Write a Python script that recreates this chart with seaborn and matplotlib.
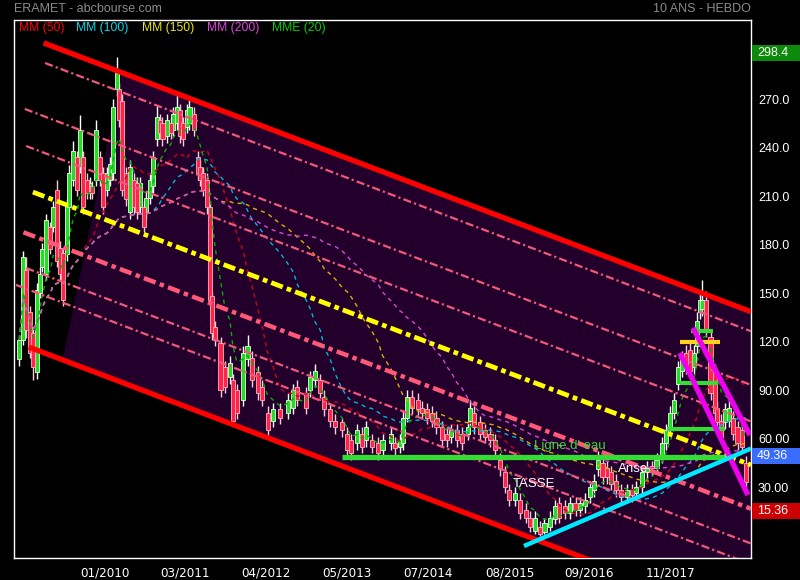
import numpy as np
import pandas as pd
import matplotlib
matplotlib.use("Agg")
import matplotlib.pyplot as plt
import matplotlib.transforms as mtransforms
from matplotlib.patches import Rectangle, Polygon
import seaborn as sns

# ---------------- data (weekly candles, week index from chart start) ----------------
week = [4, 7, 9, 12, 14, 17, 19, 21, 24, 27, 29, 32, 34, 36, 39, 41, 44, 47, 49, 51,
        54, 56, 58, 61, 64, 66, 69, 71, 73, 76, 78, 80, 83, 86, 89, 91, 93, 96, 98, 101,
        103, 106, 108, 110, 113, 116, 118, 121, 123, 125, 128, 130, 133, 136, 138, 140, 143, 145, 147, 149,
        153, 156, 160, 162, 165, 170, 173, 176, 181, 184, 188, 192, 197, 203, 207, 210, 216, 219, 223, 227,
        230, 234, 238, 243, 247, 250, 254, 258, 261, 265, 270, 273, 279, 282, 286, 288, 291, 295, 299, 302,
        306, 310, 313, 317, 321, 324, 328, 332, 336, 338, 341, 345, 349, 353, 356, 360, 364, 367, 371, 375,
        379, 382, 386, 390, 393, 397, 401, 404, 408, 412, 416, 419, 423, 427, 430, 433, 436, 439, 442, 446,
        450, 454, 458, 461, 465, 469, 473, 476, 480, 483, 486, 489, 492, 495, 498, 501, 504, 506, 508, 510,
        513, 516, 519, 521, 524, 527, 530, 533, 536, 539, 542]
open_ = [109, 121, 164, 138, 125, 101, 150, 166, 162, 191, 191, 214, 178, 175, 174, 203, 220, 234, 228, 234,
         220, 212, 216, 220, 234, 224, 214, 220, 224, 276, 276, 269, 224, 200, 220, 218, 203, 203, 200, 209,
         216, 245, 257, 255, 247, 255, 251, 255, 263, 255, 253, 255, 261, 234, 228, 224, 220, 203, 148, 129,
         119, 104, 98, 96, 90, 84, 109, 110, 101, 92, 76, 71, 78, 76, 79, 92, 88, 90, 96, 96,
         86, 78, 71, 70, 63, 59, 57, 63, 59, 59, 57, 53, 57, 57, 55, 57, 73, 86, 84, 79,
         78, 76, 73, 67, 63, 61, 65, 63, 63, 71, 76, 70, 65, 63, 59, 47, 39, 28, 22, 22,
         16, 11, 3, 5, 2, 5, 10, 20, 18, 14, 20, 16, 18, 24, 28, 41, 45, 42, 39, 34,
         28, 24, 28, 26, 30, 39, 42, 42, 49, 57, 67, 76, 94, 102, 113, 115, 104, 117, 138, 140,
         146, 123, 102, 79, 71, 70, 71, 73, 67, 65, 45]
high = [124, 176, 172, 142, 128, 156, 166, 181, 199, 194, 207, 220, 182, 178, 208, 229, 244, 238, 260, 238,
        224, 222, 219, 257, 238, 228, 228, 234, 270, 296, 280, 273, 228, 232, 224, 222, 222, 207, 213, 224,
        238, 266, 261, 259, 261, 259, 265, 274, 267, 259, 267, 272, 265, 238, 232, 228, 224, 207, 151, 133,
        123, 108, 111, 100, 94, 117, 124, 114, 105, 96, 80, 82, 82, 88, 94, 96, 92, 102, 106, 100,
        90, 82, 75, 73, 67, 63, 69, 67, 71, 63, 61, 63, 67, 61, 63, 77, 90, 90, 88, 83,
        82, 80, 77, 71, 67, 69, 69, 67, 71, 84, 80, 74, 69, 67, 63, 51, 43, 32, 30, 26,
        20, 15, 15, 9, 11, 15, 22, 24, 22, 24, 24, 24, 26, 34, 38, 52, 49, 46, 43, 38,
        32, 32, 32, 34, 43, 46, 46, 51, 61, 69, 80, 88, 108, 114, 118, 120, 118, 138, 151, 158,
        151, 128, 106, 83, 75, 82, 88, 77, 71, 69, 49]
low = [105, 118, 122, 110, 96, 97, 147, 163, 158, 174, 188, 166, 158, 142, 170, 200, 216, 210, 224, 199,
       208, 208, 208, 216, 216, 199, 210, 216, 220, 272, 253, 210, 204, 196, 199, 196, 199, 188, 196, 205,
       212, 241, 245, 241, 243, 245, 247, 251, 243, 241, 249, 251, 247, 220, 216, 210, 199, 142, 121, 117,
       86, 88, 94, 68, 72, 80, 105, 92, 84, 80, 60, 67, 69, 72, 75, 80, 75, 86, 92, 84,
       74, 67, 63, 61, 49, 47, 53, 51, 55, 51, 47, 49, 53, 50, 51, 53, 70, 75, 74, 72,
       69, 67, 63, 55, 55, 57, 55, 53, 59, 67, 63, 59, 57, 55, 49, 37, 26, 18, 18, 10,
       8, 2, 1, 0, 1, 3, 7, 8, 10, 10, 12, 12, 14, 20, 24, 37, 32, 32, 28, 24,
       20, 20, 21, 22, 26, 35, 37, 38, 45, 53, 63, 72, 90, 98, 100, 98, 100, 113, 134, 136,
       123, 84, 72, 66, 57, 66, 67, 59, 53, 51, 30]
close = [121, 172, 127, 113, 104, 152, 162, 177, 195, 177, 203, 170, 162, 146, 204, 224, 238, 214, 251, 203,
         212, 218, 212, 251, 220, 203, 224, 230, 265, 286, 257, 214, 208, 228, 203, 200, 218, 191, 209, 220,
         234, 259, 249, 245, 257, 249, 261, 265, 247, 245, 263, 265, 251, 224, 220, 214, 203, 146, 125, 121,
         90, 92, 107, 71, 76, 113, 117, 96, 88, 84, 65, 78, 73, 84, 90, 84, 79, 98, 102, 88,
         78, 71, 67, 65, 53, 51, 65, 55, 67, 55, 51, 59, 63, 54, 59, 73, 86, 79, 78, 76,
         73, 71, 67, 59, 59, 65, 59, 57, 67, 79, 67, 63, 61, 59, 53, 41, 30, 22, 26, 14,
         11, 5, 11, 1, 8, 11, 18, 11, 14, 20, 16, 20, 22, 30, 34, 47, 36, 36, 32, 28,
         24, 28, 25, 30, 39, 42, 41, 47, 57, 65, 76, 84, 104, 109, 104, 102, 113, 133, 146, 146,
         127, 88, 76, 70, 61, 78, 79, 63, 57, 55, 33]

x_tick_weeks = [67, 127, 187, 247, 307, 367, 426, 486]
x_tick_labels = ["01/2010", "03/2011", "04/2012", "05/2013", "07/2014", "08/2015", "09/2016", "11/2017"]
y_ticks = [30, 60, 90, 120, 150, 180, 210, 240, 270, 300]

ma_names = ["MM (50)", "MM (100)", "MM (150)", "MM (200)", "MME (20)"]
ma_periods = [50, 100, 150, 200, 20]

# regression channel: price at week 0 for each parallel line, its start week
chan_slope = -0.3173
chan_p0 = [311.7, 299.6, 266.4, 243.8, 216.9, 189.8, 168.3, 155.5, 120.1]
chan_start = [22, 23, 8, 9, 14, 7, 9, 1.5, 11]
chan_kind = ["edge", "dd", "dd", "dd", "yellow", "pink", "dd", "dd", "edge"]
fill_start_top, fill_start_bottom = 80, 36

# horizontal levels
level_price = [48.6, 126.5, 119.7, 94.3, 65.9]
level_w0 = [243, 501.5, 493.3, 493.3, 483.7]
level_w1 = [526.7, 517.8, 523.0, 521.5, 526.7]
level_kind = ["water", "green", "yellow", "green", "green"]

# other trend lines
mag_w = [[493.3, 543.7], [503.0, 545.2]]
mag_p = [[112.9, 25.1], [128.4, 62.2]]
cyan_w = [377.8, 546.0]
cyan_p = [-6.5, 53.8]

notes = ["Ligne d' eau", "TASSE", "Anse"]
note_w = [385, 369.6, 447.4]
note_p = [55.4, 31.9, 41.1]

box_values = [298.4, 49.36, 15.36]

# ---------------- styling ----------------
sns.set_theme(style="dark")
plt.rcParams["font.family"] = ["Liberation Sans", "DejaVu Sans"]
plt.rcParams["axes.facecolor"] = "black"
plt.rcParams["figure.facecolor"] = "black"

W, H = 800, 580
fig = plt.figure(figsize=(W / 100, H / 100), dpi=100)
ax = fig.add_axes([14 / W, 22 / H, 737 / W, 538 / H])
ax.set_facecolor("black")
XMIN, XMAX = 0, 546
ax.set_xlim(XMIN, XMAX)
ax.set_ylim(-13.9, 318.9)

def chan(p0, w):
    return p0 + chan_slope * np.asarray(w, dtype=float)

# purple channel fill
top_p0, bot_p0 = chan_p0[0], chan_p0[-1]
poly = [(fill_start_top, chan(top_p0, fill_start_top)), (XMAX, chan(top_p0, XMAX)),
        (XMAX, chan(bot_p0, XMAX)), (fill_start_bottom, chan(bot_p0, fill_start_bottom))]
ax.add_patch(Polygon(poly, closed=True, facecolor="#22002b", edgecolor="none", zorder=0.5))

# candles
w_arr = np.array(week, dtype=float)
o_arr, h_arr, l_arr, c_arr = map(np.array, (open_, high, low, close))
up = c_arr >= o_arr
ax.vlines(w_arr[up], l_arr[up], h_arr[up], colors="#ffffff", lw=1.0, zorder=2)
ax.vlines(w_arr[~up], l_arr[~up], h_arr[~up], colors="#ffc8d8", lw=1.0, zorder=2)
body = np.where(np.abs(c_arr - o_arr) < 1.2, 1.2, c_arr - o_arr)
ax.bar(w_arr[up], body[up], bottom=o_arr[up], width=3.0, color="#22dd22",
       edgecolor="#e8ffe8", linewidth=0.6, zorder=2.1)
ax.bar(w_arr[~up], body[~up], bottom=o_arr[~up], width=3.0, color="#ff2448",
       edgecolor="#ffb0c4", linewidth=0.6, zorder=2.1)

# moving averages
dates = pd.Timestamp("2008-10-27") + pd.to_timedelta(w_arr * 7, unit="D")
s = pd.Series(c_arr.astype(float), index=dates)
ma_colors = ["#d0001c", "#00b8d8", "#d8b000", "#d848d8", "#00b000"]
for name, n, col in zip(ma_names, ma_periods, ma_colors):
    if name.startswith("MME"):
        ma = s.ewm(halflife=pd.Timedelta(days=48.5), times=dates).mean()
    else:
        ma = s.rolling(f"{n * 7}D", min_periods=1).mean()
    sns.lineplot(x=w_arr, y=ma.values, ax=ax, color=col, linewidth=1.0,
                 linestyle=(0, (3, 3)), zorder=3)

# channel lines
for p0, ws, kind in zip(chan_p0, chan_start, chan_kind):
    xs = np.array([ws, XMAX])
    ys = chan(p0, xs)
    if kind == "edge":
        ax.plot(xs, ys, color="#ff0000", lw=3.8, solid_capstyle="butt", zorder=4)
    elif kind == "dd":
        ax.plot(xs, ys, color="#f2587a", lw=1.6, linestyle=(0, (3.7, 1.4, 1.0, 1.4)), zorder=4)
    elif kind == "yellow":
        ax.plot(xs, ys, color="#ffff00", lw=3.4, linestyle=(0, (2.6, 0.9, 1.0, 0.9)), zorder=4.2)
    else:
        ax.plot(xs, ys, color="#ff5878", lw=3.2, linestyle=(0, (2.8, 1.0, 1.0, 1.0)), zorder=4)

# horizontal levels
for p, a, b, kind in zip(level_price, level_w0, level_w1, level_kind):
    col = "#ffd21e" if kind == "yellow" else "#33dd33"
    lw = 3.8 if kind == "water" else 3.0
    ax.plot([a, b], [p, p], color=col, lw=lw, solid_capstyle="butt", zorder=5)

for ws, ps in zip(mag_w, mag_p):
    ax.plot(ws, ps, color="#ee00ee", lw=3.8, solid_capstyle="butt", zorder=5)
ax.plot(cyan_w, cyan_p, color="#00e8ff", lw=3.2, solid_capstyle="butt", zorder=5)

note_colors = ["#33dd33", "white", "white"]
for t, w0, p0, col in zip(notes, note_w, note_p, note_colors):
    ax.text(w0, p0, t, color=col, fontsize=9.5, va="center", ha="left", zorder=6)

# axes decoration
for sp in ax.spines.values():
    sp.set_color("white")
    sp.set_linewidth(1.0)
    sp.set_visible(True)
ax.grid(False)
ax.set_xlabel("")
ax.set_ylabel("")
ax.yaxis.tick_right()
ax.set_yticks(y_ticks)
ax.set_yticklabels([f"{v:.1f}" if v >= 100 else f"{v:.2f}" for v in y_ticks])
ax.set_xticks(x_tick_weeks)
ax.set_xticklabels(x_tick_labels)
ax.tick_params(axis="both", length=0, colors="white")
ax.tick_params(axis="y", labelsize=9, pad=5)
ax.tick_params(axis="x", labelsize=9.5, pad=6)
for lab in ax.get_xticklabels():
    lab.set_family(["DejaVu Sans"])
    lab.set_stretch("condensed")

# price boxes at the right
trans = mtransforms.blended_transform_factory(fig.transFigure, ax.transData)
box_colors = ["#0b8a0b", "#3a6cff", "#cc0000"]
for v, col in zip(box_values, box_colors):
    fig.add_artist(Rectangle((752 / W, v - 5.0), 48 / W, 10.0, transform=trans,
                             facecolor=col, edgecolor="none", zorder=10))
    fig.text(757 / W, v, f"{v:g}" if v >= 100 else f"{v:.2f}", transform=trans,
             color="white", fontsize=9, va="center", ha="left", zorder=11)

# header and legend
fig.text(14 / W, 1 - 9 / H, "ERAMET - abcbourse.com", color="#8a8a8a", fontsize=9, va="center", ha="left")
fig.text(751 / W, 1 - 9 / H, "10 ANS - HEBDO", color="#8a8a8a", fontsize=9, va="center", ha="right")
legend_x = [19, 76, 142, 207, 272]
legend_colors = ["#ff0000", "#00d8e8", "#e8e800", "#e040e0", "#00d000"]
for name, lx, col in zip(ma_names, legend_x, legend_colors):
    fig.text(lx / W, 1 - 27.5 / H, name, color=col, fontsize=8.7, va="center", ha="left", zorder=12)

fig.savefig("out.png", dpi=100, facecolor="black")
